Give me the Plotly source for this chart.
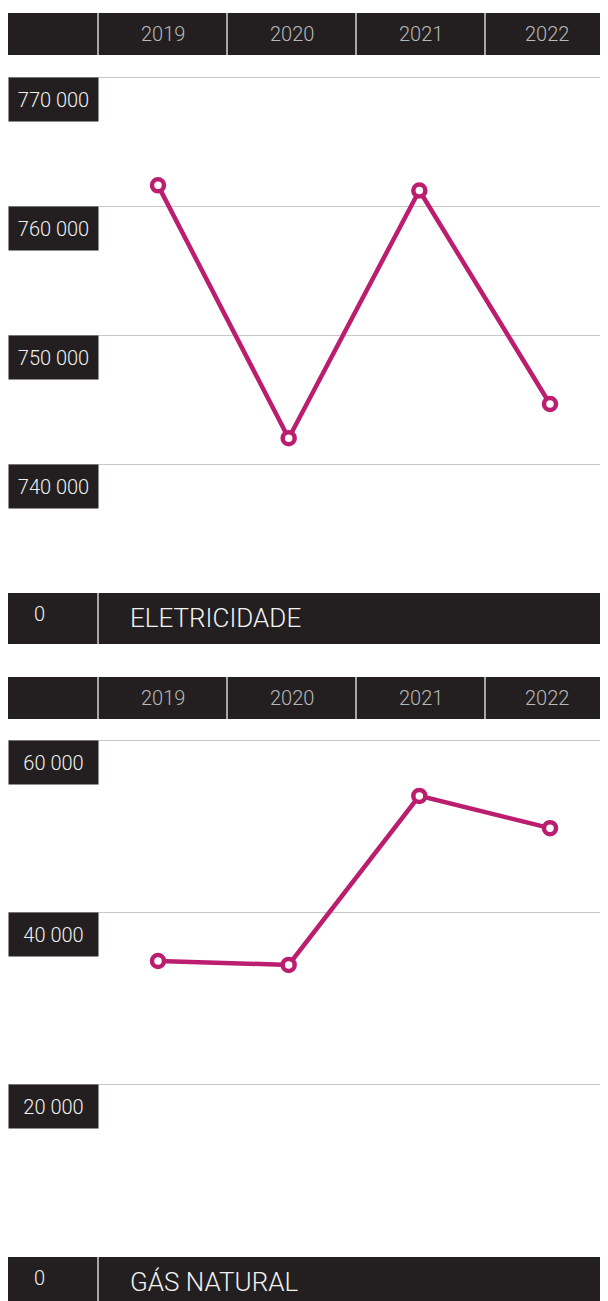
import plotly.graph_objects as go

# ---- data ----
years = ["2019", "2020", "2021", "2022"]
eletricidade = [761600, 742000, 761200, 744650]
gas_natural = [34300, 33850, 53500, 49750]
elet_ticks = [740000, 750000, 760000, 770000]
gas_ticks = [20000, 40000, 60000]
titles = ["ELETRICIDADE", "GÁS NATURAL"]

# ---- layout constants (page pixels; page has 8px body margin) ----
OFF = 8
W, H = 600, 1293
DARK = "#231f20"
MAGENTA = "#bb1d6f"
GRID = "#c8c8c8"
DIVIDER = "#d4d4d4"
FONT = "Roboto"


def py(p):
    return 1 - (p - OFF) / H


def px(p):
    return (p - OFF) / W


def fmt(v):
    return f"{v:,}".replace(",", " ")


# x axis: categories 0..3 at page pixels 158 .. 550
x0_px, x3_px = 158, 550
unit = (x3_px - x0_px) / 3
xrange_ = [(OFF - x0_px) / unit, (OFF + W - x0_px) / unit]

panels = [
    dict(vals=eletricidade, ticks=elet_ticks, base=730000, base_px=593, top_px=70,
         ppu=129 / 10000, header=(13, 55), bottom=(593, 644), title=titles[0]),
    dict(vals=gas_natural, ticks=gas_ticks, base=0, base_px=1256, top_px=734,
         ppu=172 / 20000, header=(677, 719), bottom=(1257, 1320), title=titles[1]),
]

fig = go.Figure()
shapes = []
annotations = []
dividers = [98, 227, 356, 485]

for i, p in enumerate(panels):
    xa = "x" if i == 0 else "x2"
    ya = "y" if i == 0 else "y2"
    fig.add_trace(go.Scatter(
        x=years, y=p["vals"], xaxis=xa, yaxis=ya, mode="lines+markers",
        line=dict(color=MAGENTA, width=4.5),
        marker=dict(size=12, color="white", line=dict(color=MAGENTA, width=4.5)),
        hoverinfo="skip", showlegend=False,
    ))
    top_val = p["base"] + (p["base_px"] - p["top_px"]) / p["ppu"]
    axis_key = "yaxis" if i == 0 else "yaxis2"
    xaxis_key = "xaxis" if i == 0 else "xaxis2"
    fig.update_layout(**{
        axis_key: dict(domain=[py(p["base_px"]), py(p["top_px"])],
                       range=[p["base"], top_val], tickvals=p["ticks"],
                       showticklabels=False, showgrid=True, gridcolor=GRID,
                       gridwidth=1, zeroline=False, showline=False,
                       anchor=xa, fixedrange=True),
        xaxis_key: dict(type="category", range=xrange_, showticklabels=False,
                        showgrid=False, zeroline=False, showline=False,
                        anchor=ya, domain=[0, 1], fixedrange=True),
    })

    # header bar
    h0, h1 = p["header"]
    shapes.append(dict(type="rect", xref="paper", yref="paper", x0=px(OFF), x1=1,
                       y0=py(h1), y1=py(h0), fillcolor=DARK, line=dict(width=0),
                       layer="above"))
    for d in dividers:
        shapes.append(dict(type="line", xref="paper", yref="paper", x0=px(d), x1=px(d),
                           y0=py(h1), y1=py(h0), line=dict(color=DIVIDER, width=1.5),
                           layer="above"))
    edges = dividers + [OFF + W]
    for j, yr in enumerate(years):
        cx = (edges[j] + edges[j + 1]) / 2
        annotations.append(dict(text=yr, xref="paper", yref="paper", x=px(cx),
                                y=py((h0 + h1) / 2), xanchor="center", yanchor="middle",
                                showarrow=False,
                                font=dict(family=FONT, size=20, weight=300,
                                          color="#b8b8b8")))

    # bottom bar
    b0, b1 = p["bottom"]
    shapes.append(dict(type="rect", xref="paper", yref="paper", x0=px(OFF), x1=1,
                       y0=py(b1), y1=py(b0), fillcolor=DARK, line=dict(width=0),
                       layer="above"))
    shapes.append(dict(type="line", xref="paper", yref="paper", x0=px(98), x1=px(98),
                       y0=py(b1), y1=py(b0), line=dict(color=DIVIDER, width=1.5),
                       layer="above"))
    annotations.append(dict(text="0", xref="paper", yref="paper", x=px(39), y=py(b0 + 21),
                            xanchor="center", yanchor="middle", showarrow=False,
                            font=dict(family=FONT, size=20, weight=300,
                                      color="#f2f2f2")))
    annotations.append(dict(text=p["title"], xref="paper", yref="paper", x=px(128),
                            y=py(b0 + 25), xanchor="left", yanchor="middle",
                            showarrow=False,
                            font=dict(family=FONT, size=26, weight=300,
                                      color="#f2f2f2")))

    # y tick label boxes
    for t in p["ticks"]:
        annotations.append(dict(text=fmt(t), xref="paper", yref=ya, x=0, y=t,
                                xanchor="left", yanchor="top", width=89, height=43,
                                bgcolor=DARK, borderpad=0, showarrow=False,
                                align="center", valign="middle",
                                font=dict(family=FONT, size=20, weight=300,
                                          color="#f2f2f2")))

fig.update_layout(
    width=W, height=H,
    margin=dict(l=0, r=0, t=0, b=0, pad=0),
    paper_bgcolor="white", plot_bgcolor="white",
    shapes=shapes, annotations=annotations,
    showlegend=False,
)

fig.write_html("out.html", config={"displayModeBar": False})
